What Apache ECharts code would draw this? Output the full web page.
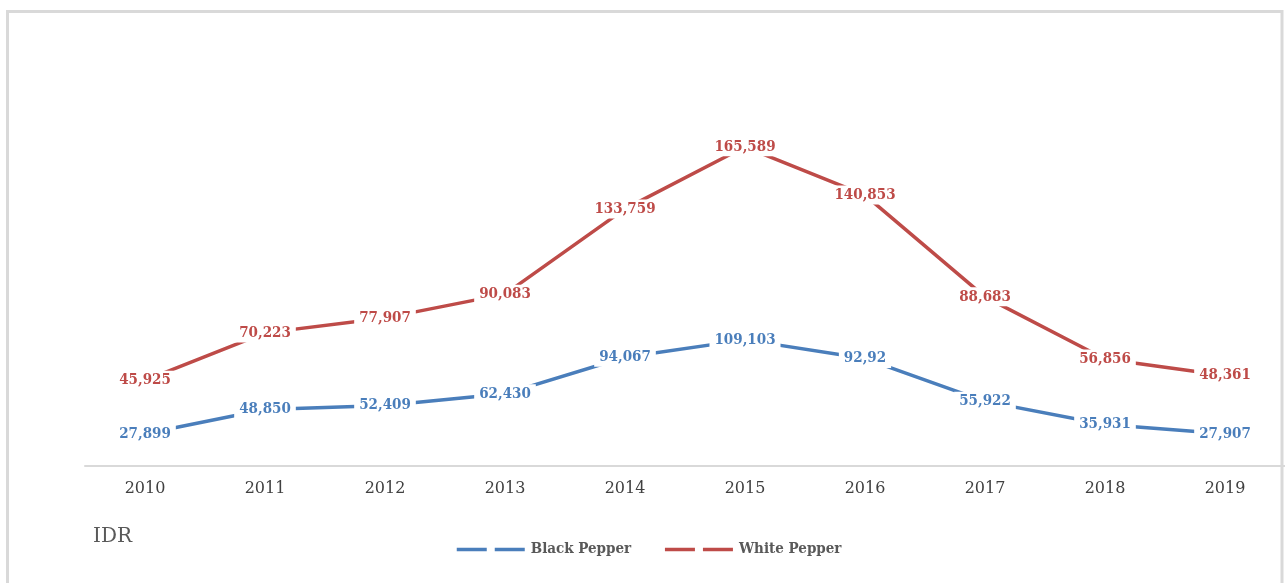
<!DOCTYPE html>
<html>
<head>
<meta charset="utf-8">
<script src="https://cdn.jsdelivr.net/npm/echarts@6/dist/echarts.min.js"></script>
<style>
  html, body { margin: 0; padding: 0; background: #ffffff; }
  #chart { width: 1285px; height: 583px; }
</style>
</head>
<body>
<div id="chart"></div>
<script>
const years = ['2010', '2011', '2012', '2013', '2014', '2015', '2016', '2017', '2018', '2019'];
const blackPepper = [27899, 48850, 52409, 62430, 94067, 109103, 92920, 55922, 35931, 27907];
const whitePepper = [45925, 70223, 77907, 90083, 133759, 165589, 140853, 88683, 56856, 48361];
// label texts exactly as printed in the source chart
const blackLabels = ['27,899', '48,850', '52,409', '62,430', '94,067', '109,103', '92,92', '55,922', '35,931', '27,907'];
const whiteLabels = ['45,925', '70,223', '77,907', '90,083', '133,759', '165,589', '140,853', '88,683', '56,856', '48,361'];
const unitLabel = 'IDR';

const BLUE = '#4a7ebb';
const RED = '#be4b48';
const LABEL_FONT = '"DejaVu Serif Condensed", "DejaVu Serif", serif';

const chart = echarts.init(document.getElementById('chart'), null, { renderer: 'canvas' });

function labelCfg(color, texts) {
  return {
    show: true,
    position: 'inside',
    color: color,
    fontFamily: LABEL_FONT,
    fontWeight: 'bold',
    fontSize: 15,
    backgroundColor: '#ffffff',
    padding: [2, 5, 2, 5],
    formatter: p => texts[p.dataIndex]
  };
}

chart.setOption({
  backgroundColor: '#ffffff',
  animation: false,
  grid: { left: 85, right: 0, top: 66, bottom: 117, containLabel: false },
  graphic: [
    {
      type: 'rect',
      shape: { x: 7.5, y: 11.5, width: 1274.5, height: 600 },
      style: { fill: 'none', stroke: '#d9d9d9', lineWidth: 3 },
      silent: true,
      z: -10
    },
    {
      type: 'text',
      left: 93,
      top: 527,
      style: {
        text: unitLabel,
        fill: '#595959',
        font: '20px "DejaVu Serif", serif'
      }
    }
  ],
  legend: {
    left: 450,
    top: 537,
    itemWidth: 68,
    itemHeight: 14,
    itemGap: 32,
    itemStyle: { opacity: 0, borderWidth: 0 },
    lineStyle: { type: [30, 8], width: 3.5 },
    textStyle: {
      color: '#595959',
      fontFamily: LABEL_FONT,
      fontWeight: 'bold',
      fontSize: 15,
      padding: [0, 0, 0, 1]
    },
    data: ['Black Pepper', 'White Pepper']
  },
  xAxis: {
    type: 'category',
    data: years,
    boundaryGap: true,
    axisLine: { show: true, lineStyle: { color: '#d9d9d9', width: 2 } },
    axisTick: { show: false },
    axisLabel: {
      color: '#404040',
      fontFamily: '"DejaVu Serif", serif',
      fontSize: 16,
      margin: 15
    },
    splitLine: { show: false }
  },
  yAxis: [
    { type: 'value', min: 0, max: 346000, show: false, splitLine: { show: false } },
    { type: 'value', min: 2000, max: 207000, show: false, splitLine: { show: false } }
  ],
  series: [
    {
      name: 'Black Pepper',
      type: 'line',
      yAxisIndex: 0,
      data: blackPepper,
      symbol: 'circle',
      symbolSize: 1,
      showSymbol: true,
      itemStyle: { color: BLUE },
      lineStyle: { color: BLUE, width: 3.5 },
      label: labelCfg(BLUE, blackLabels),
      emphasis: { disabled: true },
      z: 2
    },
    {
      name: 'White Pepper',
      type: 'line',
      yAxisIndex: 1,
      data: whitePepper,
      symbol: 'circle',
      symbolSize: 1,
      showSymbol: true,
      itemStyle: { color: RED },
      lineStyle: { color: RED, width: 3.5 },
      label: labelCfg(RED, whiteLabels),
      emphasis: { disabled: true },
      z: 2
    }
  ]
});
</script>
</body>
</html>
